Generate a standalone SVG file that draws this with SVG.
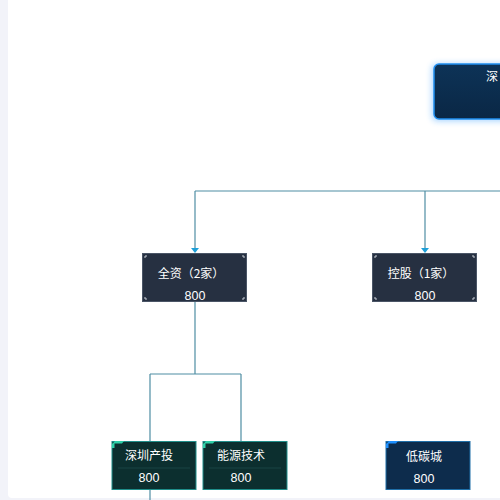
<svg xmlns="http://www.w3.org/2000/svg" width="500" height="500" viewBox="0 0 500 500">
<defs>
<style>
.t{font-family:"Noto Sans CJK SC","Liberation Sans",sans-serif;font-size:12px;fill:#ffffff;text-anchor:middle}
.n{font-family:"Liberation Sans","Noto Sans CJK SC",sans-serif;font-size:12.5px;fill:#ffffff;text-anchor:middle}
.ln{fill:none;stroke:#4f8ea3;stroke-width:1.2}
.l2{fill:#263041;stroke:#4a5566;stroke-width:1}
.cm{fill:none;stroke:#c9ced6;stroke-width:1}
.g3{fill:#0c2f2f;stroke:#1f8e8a;stroke-width:1}
.b3{fill:#0d2c4c;stroke:#1f6fa8;stroke-width:1}
</style>
<linearGradient id="topg" x1="0" y1="0" x2="0" y2="1">
<stop offset="0" stop-color="#0d3357"/>
<stop offset="1" stop-color="#0a2745"/>
</linearGradient>
<linearGradient id="dots" x1="0" y1="0" x2="0" y2="1">
<stop offset="0" stop-color="#c9a524"/>
<stop offset="1" stop-color="#2bb6d6"/>
</linearGradient>
<linearGradient id="vline" x1="0" y1="0" x2="0" y2="1">
<stop offset="0" stop-color="#1c8fc0"/>
<stop offset="1" stop-color="#8a9aa3"/>
</linearGradient>
<filter id="glow" x="-30%" y="-30%" width="160%" height="160%">
<feGaussianBlur stdDeviation="3"/>
</filter>
</defs>
<rect x="0" y="0" width="500" height="500" fill="#f2f3f9"/>
<rect x="8" y="-4" width="500" height="502" rx="4" fill="#ffffff"/>

<g id="connectors">
<path class="ln" d="M195,191 H500"/>
<path class="ln" d="M195,191 V248"/>
<path d="M191,248 L199,248 L195,253 Z" fill="#1e9fd8"/>
<path class="ln" d="M425,191 V248"/>
<path d="M421,248 L429,248 L425,253 Z" fill="#1e9fd8"/>
<path class="ln" d="M195,302 V374 M150,374 H241 M150,374 V441 M241,374 V441"/>
<path d="M425,302 V441" fill="none" stroke="url(#vline)" stroke-width="1.2"/>
<path class="ln" d="M150,490 V500"/>
</g>

<g id="node-top">
<rect x="432" y="64" width="80" height="57" rx="5" fill="#1e90ff" opacity="0.4" filter="url(#glow)"/>
<rect x="434" y="64" width="80" height="55" rx="5" fill="url(#topg)" stroke="#1f8ef0" stroke-width="1.5"/>
<line x1="438" y1="79" x2="438" y2="107" stroke="url(#dots)" stroke-width="1.4" stroke-dasharray="1.4 1.6"/>
<text class="t" x="486" y="81" style="text-anchor:start">深</text>
</g>

<g id="node-quanzi">
<rect class="l2" x="142.5" y="253.5" width="104" height="48"/>
<path class="cm" d="M145,258 V256 H147 M244,256 H242 M244,256 V258 M145,297 V299 H147 M244,299 H242 M244,299 V297"/>
<text class="t" x="191" y="278">全资（2家）</text>
<text class="n" x="195" y="300">800</text>
</g>

<g id="node-konggu">
<rect class="l2" x="372.5" y="253.5" width="104" height="48"/>
<path class="cm" d="M375,258 V256 H377 M474,256 H472 M474,256 V258 M375,297 V299 H377 M474,299 H472 M474,299 V297"/>
<text class="t" x="421" y="278">控股（1家）</text>
<text class="n" x="425" y="300">800</text>
</g>

<g id="node-szct">
<rect class="g3" x="112" y="441.5" width="84" height="48"/>
<path d="M112,448 V444 L115,441 H124 L122,443.5 H114.5 V448 Z" fill="#2fd0a8"/>
<line x1="118" y1="468" x2="190" y2="468" stroke="#1d4a4a" stroke-width="0.8"/>
<text class="t" x="149" y="460">深圳产投</text>
<text class="n" x="149" y="482">800</text>
</g>

<g id="node-nyjs">
<rect class="g3" x="203" y="441.5" width="84" height="48"/>
<path d="M203,448 V444 L206,441 H215 L213,443.5 H205.5 V448 Z" fill="#2fd0a8"/>
<line x1="209" y1="468" x2="281" y2="468" stroke="#1d4a4a" stroke-width="0.8"/>
<text class="t" x="241" y="460">能源技术</text>
<text class="n" x="241" y="482">800</text>
</g>

<g id="node-dtc">
<rect class="b3" x="386" y="441.5" width="84" height="48"/>
<path d="M386,448 V444 L389,441 H398 L396,443.5 H388.5 V448 Z" fill="#1e90ff"/>
<text class="t" x="424" y="461">低碳城</text>
<text class="n" x="424" y="483">800</text>
</g>
</svg>
